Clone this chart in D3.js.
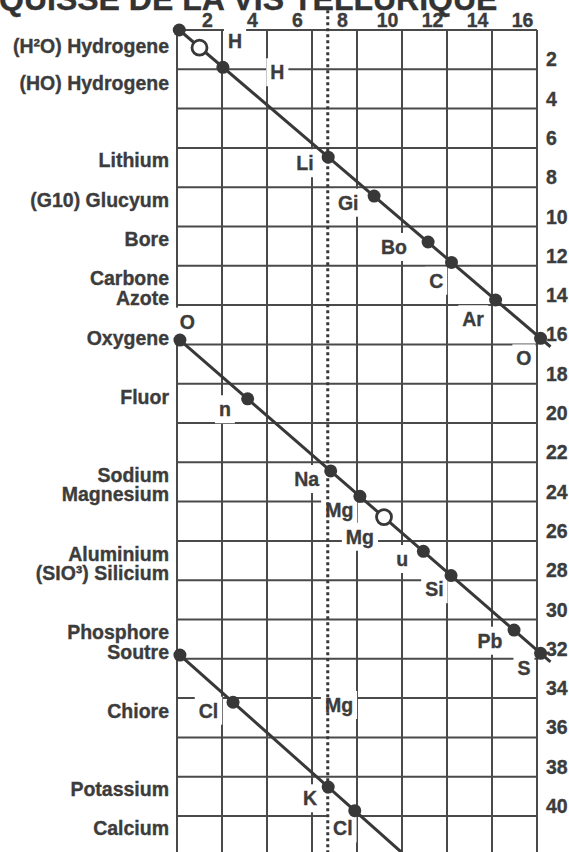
<!DOCTYPE html>
<html><head><meta charset="utf-8">
<script src="https://cdn.jsdelivr.net/npm/d3@7"></script>
<style>html,body{margin:0;padding:0;background:#fff;overflow:hidden}</style>
</head><body><svg id="c" width="569" height="852"></svg>
<script>
// ---- data ----
const titleText = "ESQUISSE DE LA VIS TELLURIQUE";
const xTickLabels = [2, 4, 6, 8, 10, 12, 14, 16];
const yTickLabels = [2, 4, 6, 8, 10, 12, 14, 16, 18, 20, 22, 24, 26, 28, 30, 32, 34, 36, 38, 40];
const gridX = [0, 2, 4, 6, 8, 10, 12, 14, 16];
const gridY = [0, 2, 4, 6, 8, 10, 12, 14, 16, 18, 20, 22, 24, 26, 28, 30, 32, 34, 36, 38, 40];

const leftNames = ["(H²O) Hydrogene", "(HO) Hydrogene", "Lithium", "(G10) Glucyum", "Bore", "Carbone", "Azote",
  "Oxygene", "Fluor", "Sodium", "Magnesium", "Aluminium", "(SIO³) Silicium", "Phosphore", "Soutre",
  "Chiore", "Potassium", "Calcium"];
const leftRows = [0.81, 2.7, 6.62, 8.65, 10.64, 12.64, 13.65, 15.69, 18.66, 22.65, 23.63, 26.67, 27.65,
  30.62, 31.64, 34.64, 38.63, 40.6];

const helixStartX = [0.1, 0.13, 0.13];
const helixStartY = [0, 15.78, 31.81];
const helixEndX = [16.6, 16.6, 9.96];
const helixEndY = [16.12, 32.16, 41.83];

const dotX = [0.1, 1.0, 2.04, 6.72, 8.76, 11.16, 12.2, 14.16, 16.16,
  0.13, 3.14, 6.83, 8.13, 9.2, 10.95, 12.18, 14.98, 16.16,
  0.13, 2.49, 6.72, 7.9];
const dotY = [0, 0.9, 1.9, 6.47, 8.45, 10.79, 11.83, 13.74, 15.69,
  15.78, 18.77, 22.44, 23.73, 24.79, 26.53, 27.76, 30.54, 31.72,
  31.81, 34.21, 38.53, 39.73];
const dotOpen = [false, true, false, false, false, false, false, false, false,
  false, false, false, false, true, false, false, false, false,
  false, false, false, false];

const symNames = ["H", "H", "Li", "Gi", "Bo", "C", "Ar", "O", "O", "n", "Na", "Mg", "Mg", "u", "Si", "Pb", "S",
  "Cl", "Mg", "K", "Cl"];
const symX = [2.58, 4.46, 5.69, 7.61, 9.64, 11.52, 13.16, 15.42, 0.46, 2.13, 5.76, 7.21, 8.13, 10.01, 11.44,
  13.91, 15.42, 1.4, 7.2, 5.91, 7.37];
const symY = [0.56, 2.15, 6.78, 8.79, 11.04, 12.76, 14.72, 16.71, 14.84, 19.3, 22.85, 24.43, 25.79, 26.92,
  28.46, 31.08, 32.48, 34.64, 34.35, 39.1, 40.63];

const dottedAt = 6.7;

// ---- drawing ----
const W = 569, H = 852;
const FONT = "'Liberation Sans', Arial, Helvetica, sans-serif";
const INK = "#383838", TXT = "#3c3c3c", GRID = "#4a4a4a";
const svg = d3.select("#c");
svg.append("rect").attr("width", W).attr("height", H).attr("fill", "#fff");

const x = d3.scaleLinear().domain([0, 16]).range([177, 537]);
const y = d3.scaleLinear().domain([0, 40]).range([30, 816]);
const yBottom = y.invert(H);

function bold(sel, size) {
  return sel.attr("font-family", FONT).attr("font-weight", "bold").attr("font-size", size)
    .attr("fill", TXT).attr("stroke", TXT).attr("stroke-width", 0.35);
}

// title (partially cut off at top)
const tmp = svg.append("text").attr("font-family", FONT).attr("font-weight", "bold")
  .attr("font-size", 32).text(titleText.slice(0, 2));
const wES = tmp.node().getComputedTextLength();
tmp.remove();
bold(svg.append("text").attr("x", -wES - 1).attr("y", 10), 32)
  .attr("fill", "#333").attr("stroke", "#333").text(titleText);

// grid
const g = svg.append("g");
g.selectAll("line.v").data(gridX).join("line")
  .attr("x1", d => x(d)).attr("x2", d => x(d))
  .attr("y1", y(0)).attr("y2", y(yBottom))
  .attr("stroke", GRID).attr("stroke-width", 2);
g.selectAll("line.h").data(gridY).join("line")
  .attr("x1", x(0)).attr("x2", x(16))
  .attr("y1", d => y(d)).attr("y2", d => y(d))
  .attr("stroke", GRID).attr("stroke-width", 2);

// axis labels
bold(svg.append("g").selectAll("text").data(xTickLabels).join("text")
  .attr("x", d => x(d) - 14.5).attr("y", 20)
  .attr("text-anchor", "middle").attr("dominant-baseline", "central"), 19.5)
  .text(d => d);
bold(svg.append("g").selectAll("text").data(yTickLabels).join("text")
  .attr("x", 546).attr("y", d => y(d) - 10)
  .attr("text-anchor", "start").attr("dominant-baseline", "central"), 19.5)
  .text(d => d);

// left element names
bold(svg.append("g").selectAll("text").data(leftNames).join("text")
  .attr("x", 169).attr("y", (d, i) => y(leftRows[i]))
  .attr("text-anchor", "end").attr("dominant-baseline", "central"), 19.5)
  .text(d => d);

// symbol labels with white backgrounds
const symG = svg.append("g");
const bgG = symG.append("g");
const labG = symG.append("g");
const labs = bold(labG.selectAll("text").data(symNames).join("text")
  .attr("x", (d, i) => x(symX[i])).attr("y", (d, i) => y(symY[i]))
  .attr("text-anchor", "middle").attr("dominant-baseline", "central"), 19.5)
  .text(d => d);
labs.each(function () {
  const b = this.getBBox();
  bgG.append("rect").attr("x", b.x - 4).attr("y", b.y - 3)
    .attr("width", b.width + 8).attr("height", b.height + 6).attr("fill", "#fff");
});

// dotted vertical
svg.append("line")
  .attr("x1", x(dottedAt)).attr("x2", x(dottedAt))
  .attr("y1", y(-1)).attr("y2", H)
  .attr("stroke", INK).attr("stroke-width", 3).attr("stroke-dasharray", "3,3");

// helix lines
svg.append("g").selectAll("line").data(helixStartX).join("line")
  .attr("x1", (d, i) => x(helixStartX[i])).attr("y1", (d, i) => y(helixStartY[i]))
  .attr("x2", (d, i) => x(helixEndX[i])).attr("y2", (d, i) => y(helixEndY[i]))
  .attr("stroke", INK).attr("stroke-width", 3);

// dots
svg.append("g").selectAll("circle").data(dotX).join("circle")
  .attr("cx", (d, i) => x(dotX[i])).attr("cy", (d, i) => y(dotY[i]))
  .attr("r", (d, i) => dotOpen[i] ? 7.5 : 6.5)
  .attr("fill", (d, i) => dotOpen[i] ? "#fff" : INK)
  .attr("stroke", INK).attr("stroke-width", (d, i) => dotOpen[i] ? 2.8 : 0);

labG.raise();
</script></body></html>
